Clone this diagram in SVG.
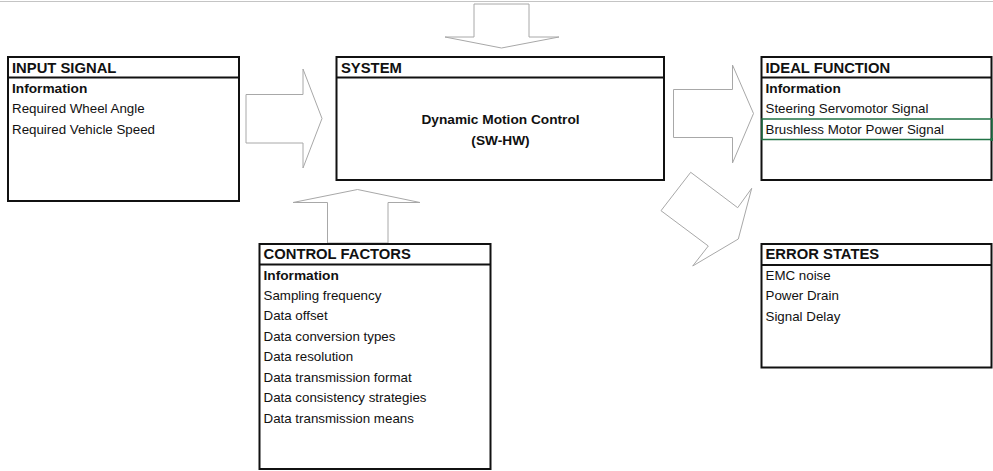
<svg xmlns="http://www.w3.org/2000/svg" width="993" height="471" viewBox="0 0 993 471">
<style>
.box{fill:#fff;stroke:#111;stroke-width:2}
.div{stroke:#111;stroke-width:2}
.arr{fill:#fff;stroke:#a8a8a8;stroke-width:1}
.hd{font-family:"Liberation Sans",Arial,sans-serif;font-size:14.8px;font-weight:bold;fill:#111}
.b{font-family:"Liberation Sans",Arial,sans-serif;font-size:13.7px;font-weight:bold;fill:#111}
.t{font-family:"Liberation Sans",Arial,sans-serif;font-size:13.33px;fill:#111}
</style>
<rect width="993" height="471" fill="#fff"/>
<line x1="0" y1="1.5" x2="993" y2="1.5" stroke="#c4c4c4" stroke-width="1"/>
<g id="connectors">
<polygon class="arr" points="474,4 529,4 529,37 559,37 501.5,48 445,37 474,37"/>
<polygon class="arr" points="246,94.5 303,94.5 303,69 322,118.5 303,168 303,143 246,143"/>
<polygon class="arr" points="673.5,89.5 732.5,89.5 732.5,65 753.5,113.5 732.5,163 732.5,137.5 673.5,137.5"/>
<polygon class="arr" points="357.5,189.5 420,202.5 388,202.5 388,243 327.5,243 327.5,202.5 293,202.5"/>
<polygon class="arr" points="690.7,172.3 737.7,207.7 751.7,188.3 738.3,239 692.7,266 708.3,246 661,210.7"/>
</g>
<g id="input-signal">
<rect class="box" x="8" y="57" width="231" height="144"/>
<line class="div" x1="8" y1="77.5" x2="239" y2="77.5"/>
<text class="hd" x="12" y="72.7">INPUT SIGNAL</text>
<text class="b" x="12" y="92.7">Information</text>
<text class="t" x="12" y="113.3">Required Wheel Angle</text>
<text class="t" x="12" y="133.6">Required Vehicle Speed</text>
</g>
<g id="system">
<rect class="box" x="336.5" y="57" width="327.5" height="123"/>
<line class="div" x1="336.5" y1="77.5" x2="664" y2="77.5"/>
<text class="hd" x="341" y="72.7">SYSTEM</text>
<text class="b" x="500.5" y="124" text-anchor="middle">Dynamic Motion Control</text>
<text class="b" x="500.5" y="145" text-anchor="middle">(SW-HW)</text>
</g>
<g id="ideal-function">
<rect class="box" x="761.5" y="57" width="230" height="123"/>
<line class="div" x1="761.5" y1="77.5" x2="991.5" y2="77.5"/>
<text class="hd" x="765.5" y="72.7">IDEAL FUNCTION</text>
<text class="b" x="765.5" y="92.7">Information</text>
<text class="t" x="765.5" y="113.3">Steering Servomotor Signal</text>
<text class="t" x="765.5" y="133.6">Brushless Motor Power Signal</text>
<rect x="762" y="119" width="230" height="20.5" fill="none" stroke="#217346" stroke-width="1.5"/>
<rect x="990.5" y="138" width="3" height="3" fill="#217346"/>
</g>
<g id="control-factors">
<rect class="box" x="259.5" y="244" width="231" height="225"/>
<line class="div" x1="259.5" y1="264.5" x2="490.5" y2="264.5"/>
<text class="hd" x="263.5" y="259">CONTROL FACTORS</text>
<text class="b" x="263.5" y="279.5">Information</text>
<text class="t" x="263.5" y="300">Sampling frequency</text>
<text class="t" x="263.5" y="320.4">Data offset</text>
<text class="t" x="263.5" y="340.8">Data conversion types</text>
<text class="t" x="263.5" y="361.2">Data resolution</text>
<text class="t" x="263.5" y="381.7">Data transmission format</text>
<text class="t" x="263.5" y="402.2">Data consistency strategies</text>
<text class="t" x="263.5" y="422.7">Data transmission means</text>
</g>
<g id="error-states">
<rect class="box" x="761.5" y="244" width="230" height="123.5"/>
<line class="div" x1="761.5" y1="265" x2="991.5" y2="265"/>
<text class="hd" x="765.5" y="259">ERROR STATES</text>
<text class="t" x="765.5" y="280">EMC noise</text>
<text class="t" x="765.5" y="300.3">Power Drain</text>
<text class="t" x="765.5" y="320.7">Signal Delay</text>
</g>
</svg>
